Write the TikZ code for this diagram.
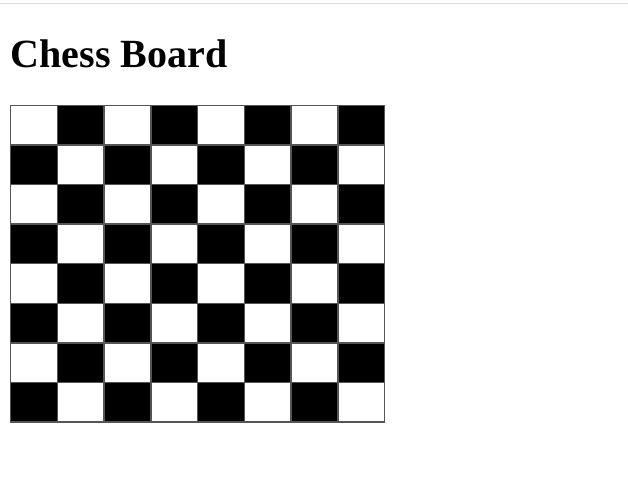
\documentclass[tikz,border=0pt]{standalone}
\usepackage{fontspec}
\setmainfont{Liberation Serif}
\definecolor{cellgray}{HTML}{555555}
\definecolor{rulegray}{HTML}{DDDDDD}
\begin{document}
\begin{tikzpicture}[x=1pt,y=-1pt,
  cell/.style={draw=cellgray,line width=1.5pt},
  dark/.style={cell,fill=black},
  light/.style={cell,fill=white}]
\useasboundingbox (0,0) rectangle (628,476);
\fill[white] (0,0) rectangle (628,476);
\draw[rulegray,line width=1.2pt] (0,3.5) -- (628,3.5);
\node[anchor=base west,inner sep=0pt,font=\fontsize{40}{44}\selectfont\bfseries] (title) at (10.5,67.5) {Chess Board};
\foreach \r in {0,...,7}{
  \foreach \c in {0,...,7}{
    \pgfmathtruncatemacro{\parity}{mod(\r+\c,2)}
    \ifnum\parity=0
      \path[light] (10.5+\c*46.75,105.3+\r*39.6) rectangle ++(46.75,39.6);
    \else
      \path[dark] (10.5+\c*46.75,105.3+\r*39.6) rectangle ++(46.75,39.6);
    \fi
  }
}
\end{tikzpicture}
\end{document}
